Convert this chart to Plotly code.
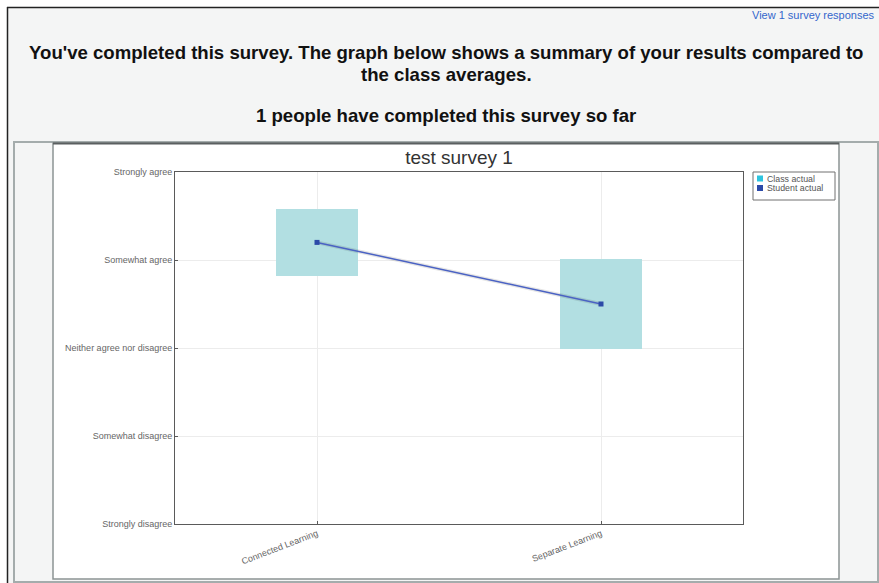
import plotly.graph_objects as go

# data
categories = ["Connected Learning", "Separate Learning"]
class_mean = [4.2, 3.5]
class_spread = [0.38, 0.51]
student_actual = [4.2, 3.5]
scale_values = [1, 2, 3, 4, 5]
scale_labels = ["Strongly disagree", "Somewhat disagree", "Neither agree nor disagree",
                "Somewhat agree", "Strongly agree"]
series_names = ["Class actual", "Student actual"]
series_colors = ["#2ec4df", "#2c4aa8"]

W, H = 879, 583
L, R, T, B = 175, 136, 172, 59
PW, PH = W - L - R, H - T - B


def xp(x):
    # window pixel -> paper x
    return (x - L) / PW


def yp(y):
    # window pixel -> paper y
    return (H - B - y) / PH


def rect(x0, x1, y0, y1, **kw):
    return dict(type="rect", xref="paper", yref="paper",
                x0=xp(x0), x1=xp(x1), y0=yp(y0), y1=yp(y1), **kw)


def line(x0, x1, y0, y1, **kw):
    return dict(type="line", xref="paper", yref="paper",
                x0=xp(x0), x1=xp(x1), y0=yp(y0), y1=yp(y1), **kw)


def label(text, x, y, xanchor="center", size=18.6, color="#111111"):
    return dict(text=text, xref="paper", yref="paper", x=xp(x), y=yp(y),
                xanchor=xanchor, yanchor="middle", showarrow=False,
                font=dict(size=size, color=color))


fig = go.Figure()

fig.add_trace(go.Bar(
    x=categories,
    y=[2 * s for s in class_spread],
    base=[m - s for m, s in zip(class_mean, class_spread)],
    width=0.29,
    marker=dict(color="#b2dfe2", line=dict(width=0)),
    showlegend=False,
    hoverinfo="skip",
))
fig.add_trace(go.Scatter(
    x=categories, y=student_actual, mode="lines",
    line=dict(color="rgba(0,0,0,0.10)", width=4),
    showlegend=False, hoverinfo="skip",
))
fig.add_trace(go.Scatter(
    x=categories, y=student_actual, mode="lines+markers",
    line=dict(color="#4a62c4", width=1.5),
    marker=dict(symbol="square", size=5, color="#2c4aa8"),
    showlegend=False,
))

shapes = [
    # white strip left of / above the page border
    rect(0, 7, 0, 583, line=dict(width=0), fillcolor="white", layer="below"),
    rect(0, 879, 0, 7, line=dict(width=0), fillcolor="white", layer="below"),
    # chart frame and the white image inside it
    rect(14, 878, 142, 582, line=dict(color="#a4acac", width=2), fillcolor="#f4f5f5", layer="below"),
    rect(53, 839, 143, 579, line=dict(color="#8c9494", width=1.5), fillcolor="white", layer="below"),
    line(53, 839, 143.5, 143.5, line=dict(color="#5a5f60", width=2)),
    # outer page border
    line(7, 879, 7.5, 7.5, line=dict(color="#222222", width=1.5)),
    line(7.5, 7.5, 7, 583, line=dict(color="#222222", width=1.5)),
    # legend box
    rect(753, 835, 172, 200, line=dict(color="#707070", width=1), fillcolor="white"),
]
annotations = [
    label("View 1 survey responses", 877, 15, xanchor="right", size=11, color="#3366cc"),
    label("<b>You've completed this survey. The graph below shows a summary of your results compared to</b>", 446, 52),
    label("<b>the class averages.</b>", 446, 74),
    label("<b>1 people have completed this survey so far</b>", 446, 115),
]
for i, (name, color) in enumerate(zip(series_names, series_colors)):
    yc = 178.5 + i * 9.5
    shapes.append(rect(757, 763, yc - 3, yc + 3, line=dict(width=0), fillcolor=color))
    annotations.append(label(name, 765, yc, xanchor="left", size=8.8, color="#555555"))

fig.update_layout(
    width=W, height=H,
    margin=dict(l=L, r=R, t=T, b=B, autoexpand=False),
    paper_bgcolor="#f4f5f5",
    plot_bgcolor="white",
    font=dict(family="Liberation Sans, Arial, sans-serif"),
    title=dict(text="test survey 1", x=xp(459), xanchor="center", xref="paper",
               y=1 - 157 / H, yref="container", yanchor="middle",
               font=dict(size=19, color="#333333")),
    shapes=shapes,
    annotations=annotations,
    showlegend=False,
    bargap=0,
)
fig.update_xaxes(
    type="category", range=[-0.5, 1.5],
    showline=True, mirror=True, linecolor="#5a5a5a", linewidth=1,
    showgrid=True, gridcolor="#ececec", gridwidth=1,
    ticks="inside", ticklen=3, tickcolor="#5a5a5a",
    tickangle=-21, tickfont=dict(size=9, color="#666666"),
)
fig.update_yaxes(
    range=[1, 5], tickvals=scale_values, ticktext=scale_labels,
    showline=True, mirror=True, linecolor="#5a5a5a", linewidth=1,
    showgrid=True, gridcolor="#ececec", gridwidth=1, zeroline=False,
    ticks="inside", ticklen=3, tickcolor="#5a5a5a",
    tickfont=dict(size=9, color="#666666"),
)

# drop the default 8px page margin so the figure fills the window exactly
fig.write_html(
    "out.html",
    config={"displayModeBar": False},
    post_script="document.body.style.margin='0';document.body.style.overflow='hidden';",
)
